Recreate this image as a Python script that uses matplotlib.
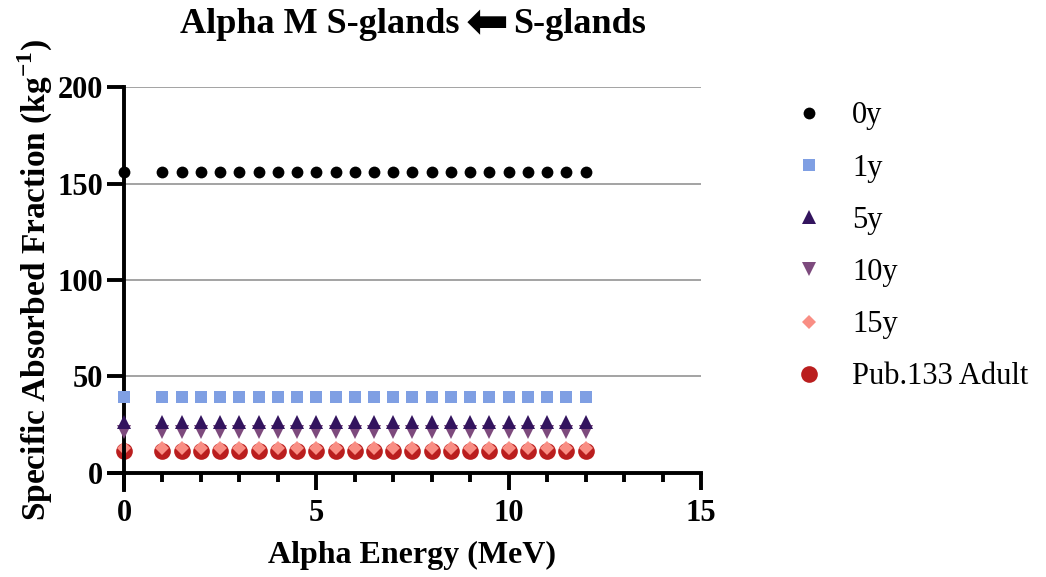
import numpy as np
import matplotlib.pyplot as plt

# Données
energie = [0.01] + [1 + 0.5 * i for i in range(23)]
series = ["0y", "1y", "5y", "10y", "15y", "Pub.133 Adult"]
valeurs = {
    "0y": 156.0,
    "1y": 39.5,
    "5y": 26.5,
    "10y": 21.0,
    "15y": 13.0,
    "Pub.133 Adult": 11.0,
}
couleurs = {
    "0y": "#000000",
    "1y": "#7F9FE3",
    "5y": "#33145E",
    "10y": "#7D4A7D",
    "15y": "#F98E84",
    "Pub.133 Adult": "#BA1E1E",
}
marqueurs = {"0y": "o", "1y": "s", "5y": "^", "10y": "v", "15y": "D", "Pub.133 Adult": "o"}
tailles = {"0y": 8.5, "1y": 9, "5y": 9.5, "10y": 9.5, "15y": 7.5, "Pub.133 Adult": 12}
ordre = {"0y": 6, "1y": 5, "5y": 4, "10y": 3, "15y": 2.5, "Pub.133 Adult": 2}

plt.rcParams['font.family'] = ['Liberation Serif', 'DejaVu Sans']
plt.rcParams['mathtext.fontset'] = 'custom'
plt.rcParams['mathtext.rm'] = 'Liberation Serif'
plt.rcParams['mathtext.bf'] = 'Liberation Serif:bold'

fig = plt.figure(figsize=(10.46, 5.77), dpi=100)
ax = fig.add_axes([0.1038, 0.1508, 0.5664, 0.698])

for s in series:
    y = np.full(len(energie), valeurs[s])
    ax.plot(energie, y, linestyle='none', marker=marqueurs[s], color=couleurs[s],
            markersize=tailles[s], markeredgewidth=0, label=s, zorder=ordre[s], clip_on=False)

ax.set_xlim(-0.4, 15)
ax.set_ylim(-9, 200)
ax.spines['left'].set_position(('data', 0))
ax.spines['bottom'].set_position(('data', 0))
ax.spines['right'].set_visible(False)
ax.spines['top'].set_visible(False)
for sp in ['left', 'bottom']:
    ax.spines[sp].set_linewidth(2.8)

ax.set_xticks([0, 5, 10, 15])
ax.set_xticks(np.arange(1, 15), minor=True)
ax.set_yticks([0, 50, 100, 150, 200])
ax.tick_params(axis='both', which='major', length=12, width=2.8, labelsize=22)
ax.tick_params(axis='x', which='major', pad=7)
ax.tick_params(axis='y', which='major', pad=3)
ax.tick_params(axis='x', which='minor', length=6.5, width=2.8)
for lab in ax.get_xticklabels() + ax.get_yticklabels():
    lab.set_fontweight('bold')

for g in [50, 100, 150, 200]:
    ax.axhline(g, color='#A3A3A3', linewidth=1.4, zorder=0, xmin=0.4 / 15.4)

# Titres et étiquettes des axes
fig.text(460 / 1046, 1 - 33 / 577, 'Alpha M S-glands', ha='right', va='baseline',
         fontsize=26, fontweight='bold')
fig.text(487 / 1046, 1 - 24 / 577, '\u2b05', ha='center', va='center',
         fontsize=37, family='DejaVu Sans')
fig.text(513 / 1046, 1 - 33 / 577, 'S-glands', ha='left', va='baseline',
         fontsize=26, fontweight='bold')
fig.text(412 / 1046, 1 - 555 / 577, 'Alpha Energy (MeV)', ha='center', va='center',
         fontsize=23, fontweight='bold')
fig.text(35 / 1046, 1 - 280 / 577, r'Specific Absorbed Fraction (kg$^{\mathbf{-1}}$)',
         ha='center', va='center', rotation=90, fontsize=24, fontweight='bold')

leg = ax.legend(loc='upper left', bbox_to_anchor=(0.733, 0.872), bbox_transform=fig.transFigure,
                frameon=False, fontsize=22, handlelength=1.0, handletextpad=0.9,
                labelspacing=0.76, markerscale=1.0)

fig.savefig('out.png', dpi=100)
